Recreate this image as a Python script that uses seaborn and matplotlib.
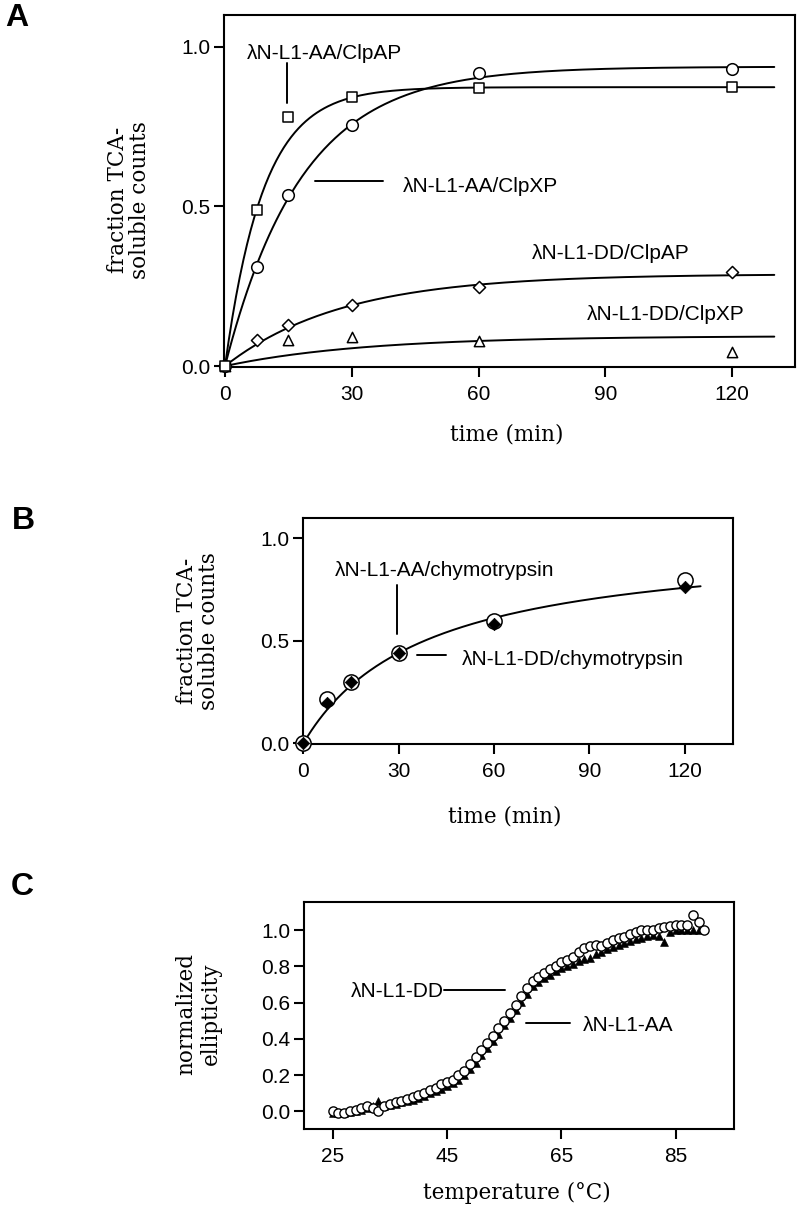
import numpy as np
import pandas as pd
import matplotlib
matplotlib.use("Agg")
import matplotlib.pyplot as plt
import seaborn as sns
from matplotlib.ticker import FormatStrFormatter

#%% data
# panel A: degradation by ClpAP / ClpXP
time_a = [0, 7.5, 15, 30, 60, 120]
aa_clpap = [0.0, 0.489, 0.779, 0.841, 0.87, 0.873]
aa_clpxp = [0.0, 0.311, 0.535, 0.755, 0.917, 0.93]
dd_clpap = [0.0, 0.081, 0.128, 0.191, 0.246, 0.295]
time_dd_clpxp = [0, 15, 30, 60, 120]
dd_clpxp = [0.0, 0.081, 0.09, 0.079, 0.045]
# single-exponential fits: plateau, rate (1/min)
fit_plateau_a = [0.873, 0.937, 0.288, 0.094]
fit_rate_a = [0.11, 0.055, 0.036, 0.030]

# panel B: chymotrypsin
time_b = [0, 7.5, 15, 30, 60, 120]
aa_chymo = [0.0, 0.217, 0.301, 0.44, 0.598, 0.795]
dd_chymo = [0.0, 0.199, 0.30, 0.44, 0.581, 0.765]
fit_max_b = 1.0
fit_half_b = 38.0

# panel C: thermal melts
temp_dd = list(range(25, 91))
ellip_dd = [0.00, -0.01, -0.01, 0.00, 0.01, 0.02, 0.03, 0.02, 0.00, 0.03,
            0.04, 0.05, 0.06, 0.07, 0.08, 0.09, 0.10, 0.12, 0.13, 0.15,
            0.16, 0.175, 0.20, 0.225, 0.26, 0.30, 0.34, 0.375, 0.415, 0.46,
            0.50, 0.545, 0.585, 0.635, 0.68, 0.72, 0.74, 0.765, 0.785, 0.80,
            0.825, 0.835, 0.85, 0.88, 0.90, 0.915, 0.92, 0.915, 0.93, 0.945,
            0.955, 0.965, 0.98, 0.99, 1.00, 1.00, 1.00, 1.01, 1.02, 1.025,
            1.03, 1.03, 1.03, 1.085, 1.045, 1.00]
temp_aa = list(range(25, 90))
ellip_aa = [-0.01, -0.01, -0.01, -0.005, 0.00, 0.01, 0.02, 0.03, 0.055, 0.03,
            0.035, 0.04, 0.05, 0.055, 0.065, 0.075, 0.085, 0.10, 0.11, 0.125,
            0.14, 0.155, 0.175, 0.20, 0.235, 0.27, 0.31, 0.35, 0.39, 0.43,
            0.475, 0.515, 0.56, 0.605, 0.65, 0.69, 0.715, 0.735, 0.755, 0.775,
            0.79, 0.80, 0.815, 0.83, 0.84, 0.845, 0.87, 0.88, 0.895, 0.91,
            0.92, 0.93, 0.94, 0.95, 0.96, 0.97, 0.975, 0.97, 0.935, 0.99,
            1.00, 1.00, 1.00, 1.00, 1.00]

#%% style
sns.set_style("ticks")
plt.rcParams["font.family"] = ["Liberation Sans", "DejaVu Sans"]
plt.rcParams["axes.linewidth"] = 1.5
plt.rcParams["axes.edgecolor"] = "black"
plt.rcParams["text.color"] = "black"
plt.rcParams["axes.labelcolor"] = "black"
plt.rcParams["xtick.color"] = "black"
plt.rcParams["ytick.color"] = "black"
plt.rcParams["xtick.major.width"] = 1.5
plt.rcParams["ytick.major.width"] = 1.5
plt.rcParams["xtick.major.size"] = 7
plt.rcParams["ytick.major.size"] = 7
plt.rcParams["xtick.direction"] = "out"
plt.rcParams["ytick.direction"] = "out"

W, H = 800, 1210
fig = plt.figure(figsize=(8, 12.1), dpi=100)


def rect(left, top, right, bottom):
    return [left / W, 1 - bottom / H, (right - left) / W, (bottom - top) / H]


def ptext(x, y, s, **kw):
    fig.text(x / W, 1 - y / H, s, **kw)


def style_ticks(ax):
    ax.yaxis.set_major_formatter(FormatStrFormatter("%.1f"))
    ax.tick_params(axis="x", labelsize=15, pad=6)
    ax.tick_params(axis="y", labelsize=15, pad=3)
    ax.set_xlabel("")
    ax.set_ylabel("")


serif = dict(family="DejaVu Serif", fontsize=15.5, ha="center", va="center")
panel = dict(fontsize=23, fontweight="bold", ha="center", va="center")
open_mk = dict(color="white", edgecolor="black", linewidth=1.1, clip_on=False, zorder=3)
ann = dict(fontsize=15, va="center")
LW = 1.4

#%% panel A
ax = fig.add_axes(rect(224, 15, 795, 367))
t_fit = np.linspace(0, 130, 300)
for plateau, rate in zip(fit_plateau_a, fit_rate_a):
    sns.lineplot(x=t_fit, y=plateau * (1 - np.exp(-rate * t_fit)), ax=ax,
                 color="black", lw=LW)
sns.scatterplot(x=time_dd_clpxp, y=dd_clpxp, marker="^", s=55, ax=ax, **open_mk)
sns.scatterplot(x=time_a, y=dd_clpap, marker="D", s=38, ax=ax, **open_mk)
sns.scatterplot(x=time_a, y=aa_clpxp, marker="o", s=70, ax=ax, **open_mk)
sns.scatterplot(x=time_a, y=aa_clpap, marker="s", s=62, ax=ax, **open_mk)
ax.set_xlim(-0.24, 134.9)
ax.set_ylim(-0.003, 1.099)
ax.set_xticks([0, 30, 60, 90, 120])
ax.set_yticks([0, 0.5, 1.0])
style_ticks(ax)
ax.text(5.2, 0.979, "λN-L1-AA/ClpAP", **ann)
ax.plot([14.6, 14.6], [0.823, 0.948], color="black", lw=LW)
ax.plot([21.3, 37.5], [0.579, 0.579], color="black", lw=LW)
ax.text(42.2, 0.562, "λN-L1-AA/ClpXP", **ann)
ax.text(72.6, 0.353, "λN-L1-DD/ClpAP", **ann)
ax.text(85.6, 0.16, "λN-L1-DD/ClpXP", **ann)
ptext(129, 200, "fraction TCA-\nsoluble counts", rotation=90, linespacing=1.0, **serif)
ptext(507, 435, "time (min)", **serif)
ptext(17, 18, "A", **panel)

#%% panel B
ax = fig.add_axes(rect(303, 518, 733, 744))
t_fit_b = np.linspace(0, 125, 300)
sns.lineplot(x=t_fit_b, y=fit_max_b * t_fit_b / (fit_half_b + t_fit_b), ax=ax,
             color="black", lw=LW)
sns.scatterplot(x=time_b, y=aa_chymo, marker="o", s=120, ax=ax, **open_mk)
sns.scatterplot(x=time_b, y=dd_chymo, marker="D", s=40, color="black",
                edgecolor="black", clip_on=False, zorder=4, ax=ax)
ax.set_xlim(-0.1, 135.2)
ax.set_ylim(-0.003, 1.10)
ax.set_xticks([0, 30, 60, 90, 120])
ax.set_yticks([0, 0.5, 1.0])
style_ticks(ax)
ax.text(9.9, 0.846, "λN-L1-AA/chymotrypsin", **ann)
ax.plot([29.6, 29.6], [0.536, 0.771], color="black", lw=LW)
ax.plot([35.9, 44.8], [0.433, 0.433], color="black", lw=LW)
ax.text(49.9, 0.408, "λN-L1-DD/chymotrypsin", **ann)
ptext(198, 631, "fraction TCA-\nsoluble counts", rotation=90, linespacing=1.0, **serif)
ptext(505, 817, "time (min)", **serif)
ptext(23, 521, "B", **panel)

#%% panel C
ax = fig.add_axes(rect(304, 902, 734, 1129))
sns.scatterplot(x=temp_aa, y=ellip_aa, marker="^", s=32, color="black",
                edgecolor="black", zorder=2, ax=ax)
sns.scatterplot(x=temp_dd, y=ellip_dd, marker="o", s=44, color="white",
                edgecolor="black", linewidth=1.0, zorder=3, ax=ax)
ax.set_xlim(19.98, 95.2)
ax.set_ylim(-0.097, 1.156)
ax.set_xticks([25, 45, 65, 85])
ax.set_yticks([0, 0.2, 0.4, 0.6, 0.8, 1.0])
style_ticks(ax)
ax.text(44.5, 0.66, "λN-L1-DD", ha="right", **ann)
ax.plot([44.5, 55.1], [0.67, 0.67], color="black", lw=LW)
ax.plot([58.9, 66.5], [0.49, 0.49], color="black", lw=LW)
ax.text(68.8, 0.477, "λN-L1-AA", **ann)
ptext(199, 1014, "normalized\nellipticity", rotation=90, linespacing=1.15, **serif)
ptext(517, 1193, "temperature (°C)", **serif)
ptext(22, 887, "C", **panel)

fig.savefig("out.png", dpi=100)
